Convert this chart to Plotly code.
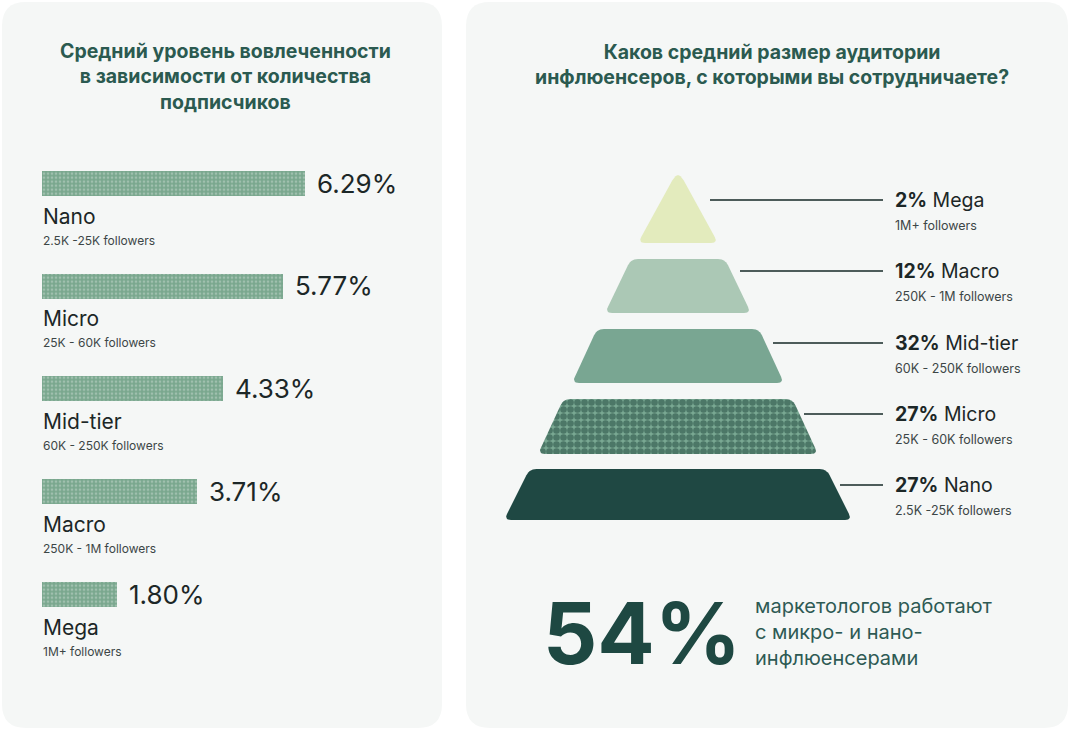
import numpy as np
import plotly.graph_objects as go

W, H = 1070, 730

# ---------------- data ----------------
left_title = "Средний уровень вовлеченности<br>в зависимости от количества<br>подписчиков"
tiers = ["Nano", "Micro", "Mid-tier", "Macro", "Mega"]
tier_ranges = ["2.5K -25K followers", "25K - 60K followers", "60K - 250K followers",
               "250K - 1M followers", "1M+ followers"]
engagement = [6.29, 5.77, 4.33, 3.71, 1.80]

right_title = "Каков средний размер аудитории<br>инфлюенсеров, с которыми вы сотрудничаете?"
aud_tiers = ["Mega", "Macro", "Mid-tier", "Micro", "Nano"]
aud_ranges = ["1M+ followers", "250K - 1M followers", "60K - 250K followers",
              "25K - 60K followers", "2.5K -25K followers"]
aud_share = [2, 12, 32, 27, 27]

highlight_value = "54%"
highlight_text = "маркетологов работают<br>с микро- и нано-<br>инфлюенсерами"

# ---------------- styles / layout constants ----------------
FONT = "Inter"
TITLE_C = "#2b5a50"
TEXT_C = "#1c2727"
SUB_C = "#3c4646"
PANEL_C = "#f5f7f6"

bar_bg = "#7aa78e"
bar_fg = "#c6dacd"

layer_colors = ["#e3ebbd", "#abc8b5", "#79a692", "#79a892", "#1f4843"]

# pyramid geometry (pixels): top y, bottom y, top half width, bottom half width
pyr_cx = 678
pyr_geom = [(170, 243, 0, 40), (259, 313, 47, 73), (329, 383, 81, 106),
            (399, 454, 114.5, 140), (469, 520, 148.5, 174)]
conn_y = [200, 271, 343, 414, 485]
conn_x0 = [710, 740, 773, 804, 840]
conn_x1 = 883
lab_x = 893

# bar chart axis placement
px_per_unit = 41.8
x0_px, x1_px = 42, 442
row_step = 102.75
first_center = 183
n = len(tiers)
top_px = first_center - row_step / 2
bot_px = top_px + row_step * n


def rounded_poly(pts, radii, nseg=8):
    xs, ys = [], []
    N = len(pts)
    for i in range(N):
        p0 = np.array(pts[i - 1], float)
        p1 = np.array(pts[i], float)
        p2 = np.array(pts[(i + 1) % N], float)
        v1, v2 = p0 - p1, p2 - p1
        l1, l2 = np.linalg.norm(v1), np.linalg.norm(v2)
        r = radii[i]
        a = p1 + v1 / l1 * min(r, l1 / 2)
        b = p1 + v2 / l2 * min(r, l2 / 2)
        for t in np.linspace(0, 1, nseg):
            q = (1 - t) ** 2 * a + 2 * (1 - t) * t * p1 + t ** 2 * b
            xs.append(q[0])
            ys.append(q[1])
    xs.append(xs[0])
    ys.append(ys[0])
    return xs, ys


def rrect_path_paper(x0, y0, x1, y1, r):
    # pixel box -> path in paper coordinates (y up)
    X = lambda v: f"{v / W:.6f}"
    Y = lambda v: f"{1 - v / H:.6f}"
    return (f"M{X(x0+r)},{Y(y0)} L{X(x1-r)},{Y(y0)} Q{X(x1)},{Y(y0)} {X(x1)},{Y(y0+r)} "
            f"L{X(x1)},{Y(y1-r)} Q{X(x1)},{Y(y1)} {X(x1-r)},{Y(y1)} L{X(x0+r)},{Y(y1)} "
            f"Q{X(x0)},{Y(y1)} {X(x0)},{Y(y1-r)} L{X(x0)},{Y(y0+r)} Q{X(x0)},{Y(y0)} {X(x0+r)},{Y(y0)} Z")


fig = go.Figure()

# ---------------- left: bars ----------------
fig.add_trace(go.Bar(
    x=engagement, y=tiers, orientation="h", xaxis="x", yaxis="y",
    width=0.245,
    marker=dict(color=bar_bg, line=dict(width=0),
                pattern=dict(shape=".", fgcolor=bar_fg, bgcolor=bar_bg,
                             size=4, solidity=0.35, fillmode="overlay")),
    hoverinfo="skip", showlegend=False,
))

annotations = []
for t, r, v in zip(tiers, tier_ranges, engagement):
    annotations.append(dict(x=v, y=t, xref="x", yref="y", text=f"{v:.2f}%",
                            showarrow=False, xanchor="left", yanchor="middle",
                            xshift=10, font=dict(family=FONT, size=26, color=TEXT_C)))
    annotations.append(dict(x=0, y=t, xref="x", yref="y", text=t,
                            showarrow=False, xanchor="left", yanchor="middle",
                            xshift=-1, yshift=-33, font=dict(family=FONT, size=21, color=TEXT_C)))
    annotations.append(dict(x=0, y=t, xref="x", yref="y", text=r,
                            showarrow=False, xanchor="left", yanchor="middle",
                            xshift=-1, yshift=-57, font=dict(family=FONT, size=12, color=SUB_C)))

# ---------------- right: pyramid ----------------
for i, (name, (yt, yb, ht, hb)) in enumerate(zip(aud_tiers, pyr_geom)):
    if ht == 0:
        pts = [(pyr_cx, yt), (pyr_cx + hb, yb), (pyr_cx - hb, yb)]
        radii = [12, 7, 7]
    else:
        pts = [(pyr_cx - ht, yt), (pyr_cx + ht, yt), (pyr_cx + hb, yb), (pyr_cx - hb, yb)]
        radii = [7, 7, 7, 7]
    xs, ys = rounded_poly(pts, radii)
    kw = {}
    if name == "Micro":
        kw["fillpattern"] = dict(shape=".", fgcolor="#1f463c", bgcolor=layer_colors[i],
                                 size=7, solidity=0.7, fillmode="overlay")
    fig.add_trace(go.Scatter(x=xs, y=ys, xaxis="x2", yaxis="y2", mode="lines",
                             fill="toself", fillcolor=layer_colors[i],
                             line=dict(width=0, color=layer_colors[i]),
                             hoverinfo="skip", showlegend=False, **kw))

shapes = [
    dict(type="path", path=rrect_path_paper(2, 2, 442, 728, 24), xref="paper", yref="paper",
         fillcolor=PANEL_C, line=dict(width=0), layer="below"),
    dict(type="path", path=rrect_path_paper(466, 2, 1068, 728, 24), xref="paper", yref="paper",
         fillcolor=PANEL_C, line=dict(width=0), layer="below"),
]
for cy, cx0 in zip(conn_y, conn_x0):
    shapes.append(dict(type="line", x0=cx0, x1=conn_x1, y0=cy, y1=cy, xref="x2", yref="y2",
                       line=dict(color="#4d5c5a", width=2), layer="above"))

for cy, name, share, rng in zip(conn_y, aud_tiers, aud_share, aud_ranges):
    annotations.append(dict(x=lab_x, y=cy, xref="x2", yref="y2",
                            text=f"<b>{share}%</b> {name}", showarrow=False,
                            xanchor="left", yanchor="middle",
                            font=dict(family=FONT, size=19.5, color=TEXT_C)))
    annotations.append(dict(x=lab_x, y=cy + 25, xref="x2", yref="y2",
                            text=rng, showarrow=False,
                            xanchor="left", yanchor="middle",
                            font=dict(family=FONT, size=12.5, color=SUB_C)))

# titles
annotations.append(dict(x=225, y=76, xref="x2", yref="y2", text=f"<b>{left_title}</b>",
                        showarrow=False, xanchor="center", yanchor="middle", align="center",
                        font=dict(family=FONT, size=19.5, color=TITLE_C)))
annotations.append(dict(x=772, y=64, xref="x2", yref="y2", text=f"<b>{right_title}</b>",
                        showarrow=False, xanchor="center", yanchor="middle", align="center",
                        font=dict(family=FONT, size=19.5, color=TITLE_C)))

# highlight
annotations.append(dict(x=541, y=633, xref="x2", yref="y2", text=f"<b>{highlight_value}</b>",
                        showarrow=False, xanchor="left", yanchor="middle",
                        font=dict(family=FONT, size=85, color="#1e4842")))
annotations.append(dict(x=753, y=632, xref="x2", yref="y2", text=highlight_text,
                        showarrow=False, xanchor="left", yanchor="middle", align="left",
                        font=dict(family=FONT, size=20, color="#2e5a54")))

fig.update_layout(
    width=W, height=H, margin=dict(l=0, r=0, t=0, b=0),
    paper_bgcolor="#ffffff", plot_bgcolor="rgba(0,0,0,0)",
    xaxis=dict(domain=[x0_px / W, x1_px / W], range=[0, (x1_px - x0_px) / px_per_unit],
               visible=False, fixedrange=True),
    yaxis=dict(domain=[(H - bot_px) / H, (H - top_px) / H], type="category",
               categoryorder="array", categoryarray=tiers, range=[n - 0.5, -0.5],
               visible=False, fixedrange=True),
    xaxis2=dict(domain=[0, 1], range=[0, W], visible=False, anchor="y2", fixedrange=True),
    yaxis2=dict(domain=[0, 1], range=[H, 0], visible=False, anchor="x2", fixedrange=True),
    shapes=shapes, annotations=annotations, bargap=0,
)

fig.write_html("out.html")
